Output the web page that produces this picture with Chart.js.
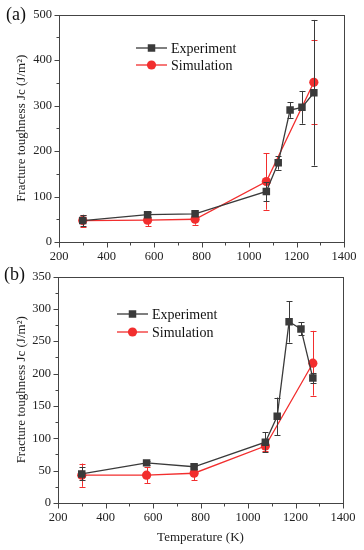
<!DOCTYPE html>
<html>
<head>
<meta charset="utf-8">
<script src="https://cdn.jsdelivr.net/npm/chart.js@4/dist/chart.umd.min.js"></script>
<style>
  html, body { margin: 0; padding: 0; background: #fff; }
  body { width: 364px; height: 550px; position: relative; overflow: hidden; }
  canvas { position: absolute; left: 0; }
  #chartA { top: 0; }
  #chartB { top: 262px; }
</style>
</head>
<body>
<canvas id="chartA" width="364" height="262"></canvas>
<canvas id="chartB" width="364" height="288"></canvas>
<script>
// temperatures (K)
const tempExp = [300, 573, 773, 1073, 1123, 1173, 1223, 1273];
const tempSim = [300, 573, 773, 1073, 1273];

// panel (a)
const expA    = [47, 60, 62, 111, 174, 290, 296, 328];
const expAErr = [12, 5, 5, 21, 15, 17, 36, 160];
const simA    = [47, 48, 50, 133, 351];
const simAErr = [13, 13, 12, 62, 92];

// panel (b)
const expB    = [45, 62, 56, 94, 134, 280, 269, 193];
const expBErr = [10, 3, 4, 15, 29, 32, 10, 8];
const simB    = [43, 43, 46, 88, 216];
const simBErr = [18, 12, 11, 7, 50];

// ticks
const xTicks  = [200, 400, 600, 800, 1000, 1200, 1400];
const yTicksA = [0, 100, 200, 300, 400, 500];
const yTicksB = [0, 50, 100, 150, 200, 250, 300, 350];

const EXP_COLOR = "#3a3a3a";
const SIM_COLOR = "#f22e2e";
const AXIS_COLOR = "#444";
const SERIF = "'Liberation Serif', 'DejaVu Serif', serif";

const pts = (xs, ys) => xs.map((x, i) => ({ x, y: ys[i] }));

// error bars, drawn just before each dataset's line and markers
const errorBars = {
  id: "errorBars",
  beforeDatasetDraw(chart, args) {
    const ds = chart.data.datasets[args.index];
    if (!ds.errors) return;
    const ctx = chart.ctx, ys = chart.scales.y, a = chart.chartArea;
    ctx.save();
    ctx.beginPath();
    ctx.rect(a.left, a.top, a.right - a.left, a.bottom - a.top);
    ctx.clip();
    ctx.strokeStyle = ds.borderColor;
    ctx.lineWidth = 1;
    args.meta.data.forEach((p, i) => {
      const v = ds.data[i].y, e = ds.errors[i];
      const top = ys.getPixelForValue(v + e), bot = ys.getPixelForValue(v - e);
      const x = Math.round(p.x) + 0.5;
      ctx.beginPath();
      ctx.moveTo(x, top); ctx.lineTo(x, bot);
      ctx.moveTo(x - 3, Math.round(top) + 0.5); ctx.lineTo(x + 3, Math.round(top) + 0.5);
      ctx.moveTo(x - 3, Math.round(bot) + 0.5); ctx.lineTo(x + 3, Math.round(bot) + 0.5);
      ctx.stroke();
    });
    ctx.restore();
  }
};

// frame, outward major/minor ticks, legend and panel letter
const decor = {
  id: "decor",
  afterDraw(chart, args, opts) {
    const ctx = chart.ctx, a = chart.chartArea;
    const xs = chart.scales.x, ys = chart.scales.y;
    ctx.save();
    ctx.strokeStyle = AXIS_COLOR;
    ctx.lineWidth = 1;
    const L = Math.round(a.left) + 0.5, R = Math.round(a.right) + 0.5;
    const T = Math.round(a.top) + 0.5, B = Math.round(a.bottom) + 0.5;
    ctx.strokeRect(L, T, R - L, B - T);

    ctx.beginPath();
    for (let v = xs.min; v <= xs.max + 1e-6; v += opts.xMinor) {
      const px = Math.round(xs.getPixelForValue(v)) + 0.5;
      const major = Math.abs(v / opts.xMajor - Math.round(v / opts.xMajor)) < 1e-6;
      ctx.moveTo(px, B); ctx.lineTo(px, B + (major ? 5 : 3));
    }
    for (let v = ys.min; v <= ys.max + 1e-6; v += opts.yMinor) {
      const py = Math.round(ys.getPixelForValue(v)) + 0.5;
      const major = Math.abs(v / opts.yMajor - Math.round(v / opts.yMajor)) < 1e-6;
      ctx.moveTo(L, py); ctx.lineTo(L - (major ? 5 : 3), py);
    }
    ctx.stroke();

    // legend
    const lg = opts.legend;
    ctx.font = "14px " + SERIF;
    ctx.textBaseline = "middle";
    chart.data.datasets.forEach((ds, i) => {
      const y = lg.y + i * lg.gap;
      ctx.strokeStyle = ds.borderColor;
      ctx.lineWidth = ds.borderWidth;
      ctx.beginPath();
      ctx.moveTo(lg.x, y); ctx.lineTo(lg.x + lg.len, y);
      ctx.stroke();
      ctx.fillStyle = ds.pointBackgroundColor;
      const cx = lg.x + lg.len / 2;
      ctx.beginPath();
      if (ds.pointStyle === "rect") {
        const s = ds.pointRadius * Math.SQRT1_2;
        ctx.rect(cx - s, y - s, 2 * s, 2 * s);
      } else {
        ctx.arc(cx, y, ds.pointRadius, 0, Math.PI * 2);
      }
      ctx.fill();
      ctx.fillStyle = "#111";
      ctx.fillText(ds.label, lg.x + lg.len + 4, y + 1);
    });

    // panel letter
    ctx.font = "18px " + SERIF;
    ctx.fillStyle = "#111";
    ctx.textBaseline = "middle";
    ctx.fillText(opts.letter, opts.letterX, opts.letterY);
    ctx.restore();
  }
};

function makeChart(id, cfg) {
  const ctx = document.getElementById(id).getContext("2d");
  return new Chart(ctx, {
    type: "line",
    data: {
      datasets: [
        {
          label: "Experiment",
          data: pts(tempExp, cfg.exp),
          errors: cfg.expErr,
          borderColor: EXP_COLOR,
          backgroundColor: EXP_COLOR,
          pointBackgroundColor: EXP_COLOR,
          pointBorderColor: EXP_COLOR,
          borderWidth: 1.3,
          pointStyle: "rect",
          pointRadius: 5.3,
          pointBorderWidth: 0,
          tension: 0
        },
        {
          label: "Simulation",
          data: pts(tempSim, cfg.sim),
          errors: cfg.simErr,
          borderColor: SIM_COLOR,
          backgroundColor: SIM_COLOR,
          pointBackgroundColor: SIM_COLOR,
          pointBorderColor: SIM_COLOR,
          borderWidth: 1.3,
          pointStyle: "circle",
          pointRadius: 4.6,
          pointBorderWidth: 0,
          tension: 0
        }
      ]
    },
    options: {
      responsive: false,
      animation: false,
      devicePixelRatio: 1,
      layout: { padding: { top: cfg.padTop, right: cfg.padRight, left: 0, bottom: 0 } },
      plugins: {
        legend: { display: false },
        tooltip: { enabled: false },
        decor: {
          xMajor: 200, xMinor: 100, yMajor: cfg.yMajor, yMinor: cfg.yMajor / 2,
          legend: cfg.legend, letter: cfg.letter, letterX: cfg.letterX, letterY: cfg.letterY
        }
      },
      scales: {
        x: {
          type: "linear",
          min: xTicks[0],
          max: xTicks[xTicks.length - 1],
          afterBuildTicks: s => { s.ticks = xTicks.map(v => ({ value: v })); },
          afterFit: s => { s.height = cfg.xHeight; },
          grid: { display: false, drawTicks: false },
          border: { display: false },
          ticks: {
            color: "#222", padding: 7, font: { family: SERIF, size: 12.5 },
            callback: v => String(v)
          },
          title: {
            display: !!cfg.xTitle,
            text: cfg.xTitle || "",
            color: "#222",
            padding: { top: 0, bottom: 5 },
            font: { family: SERIF, size: 13 }
          }
        },
        y: {
          min: cfg.yTicks[0],
          max: cfg.yTicks[cfg.yTicks.length - 1],
          afterBuildTicks: s => { s.ticks = cfg.yTicks.map(v => ({ value: v })); },
          afterFit: s => { s.width = cfg.yWidth; },
          grid: { display: false, drawTicks: false },
          border: { display: false },
          ticks: {
            color: "#222", padding: 7, font: { family: SERIF, size: 12.5 },
            callback: v => String(v)
          },
          title: {
            display: true,
            text: "Fracture toughness Jc (J/m²)",
            color: "#222",
            padding: { top: 14, bottom: 0 },
            font: { family: SERIF, size: 13 }
          }
        }
      }
    },
    plugins: [errorBars, decor]
  });
}

makeChart("chartA", {
  exp: expA, expErr: expAErr, sim: simA, simErr: simAErr,
  yTicks: yTicksA, yMajor: 100,
  padTop: 13, padRight: 20, yWidth: 59, xHeight: 20,
  legend: { x: 136, y: 48, gap: 17, len: 31 },
  letter: "(a)", letterX: 6, letterY: 15
});

makeChart("chartB", {
  exp: expB, expErr: expBErr, sim: simB, simErr: simBErr,
  yTicks: yTicksB, yMajor: 50,
  padTop: 12, padRight: 21, yWidth: 58, xHeight: 47,
  xTitle: "Temperature (K)",
  legend: { x: 117, y: 52, gap: 18, len: 31 },
  letter: "(b)", letterX: 4, letterY: 13
});
</script>
</body>
</html>
